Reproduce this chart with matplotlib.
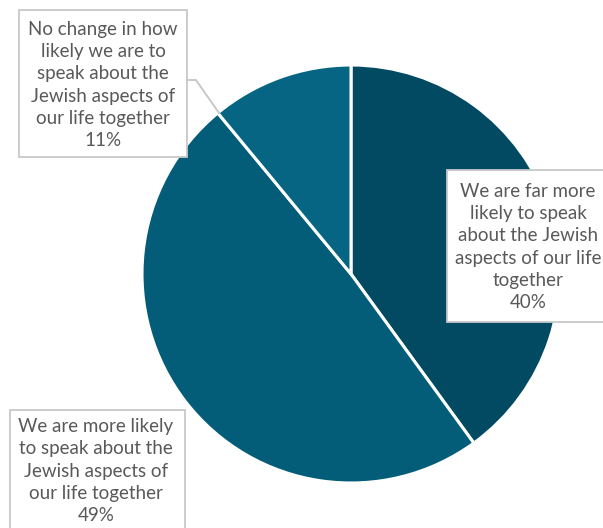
import matplotlib as mpl
from matplotlib import pyplot as plt
from matplotlib.patches import Rectangle

# shares of respondents, drawn clockwise from 12 o'clock
labels = ['We are far more\nlikely to speak\nabout the Jewish\naspects of our life\ntogether',
          'We are more likely\nto speak about the\nJewish aspects of\nour life together',
          'No change in how\nlikely we are to\nspeak about the\nJewish aspects of\nour life together']
values = [40, 49, 11]
colours = ['#014a62', '#035d78', '#056582']

W, H = 603, 528
fig = plt.figure(figsize=(W / 100, H / 100), dpi=100)
ax = fig.add_axes([0, 0, 1, 1])

def py(y):
    # pixel row (from the top) -> data y
    return H - y

cx, cy, r = 351, 274, 209
ax.pie(values, colors=colours, startangle=90, counterclock=False,
       center=(cx, py(cy)), radius=r, frame=True,
       wedgeprops=dict(edgecolor='white', linewidth=2.2))
ax.set_xlim(0, W)
ax.set_ylim(0, H)
ax.set_aspect('equal')
ax.axis('off')

# label boxes: (x0, y0, x1, y1) in pixels, text centre
boxes = [
    ((447, 170, 610, 322), (528, 247)),
    ((10, 410, 185, 540), (96, 471)),
    ((19, 10, 187, 157), (103, 85)),
]
for (lab, val), ((x0, y0, x1, y1), (tx, ty)) in zip(zip(labels, values), boxes):
    ax.add_patch(Rectangle((x0, py(y1)), x1 - x0, y1 - y0,
                           facecolor='white', edgecolor='#c8c8c8', lw=1.3, zorder=3))
    ax.text(tx, py(ty), f'{lab}\n{val}%', ha='center', va='center',
            multialignment='center', fontsize=13.5, family='Lato',
            color='#595959', linespacing=1.36, zorder=4)

# leader line for the small slice
ax.plot([187, 196, 219], [py(80), py(80), py(113)], color='#c8c8c8', lw=1.4, zorder=2)

fig.savefig('out.png', dpi=100)
